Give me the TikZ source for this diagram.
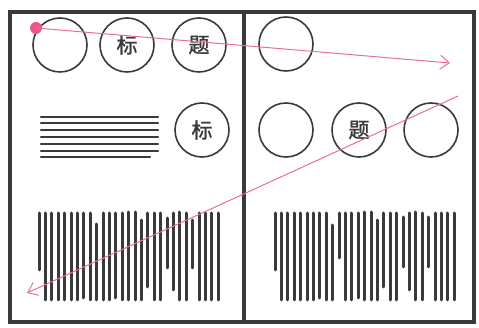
\documentclass[tikz,border=0pt]{standalone}
\usepackage{fontspec}
\newfontfamily\cjk[FakeBold=1.2]{Noto Sans CJK SC}
\usetikzlibrary{arrows.meta}
\definecolor{ink}{RGB}{58,58,58}
\definecolor{pinkdot}{RGB}{238,84,138}
\definecolor{pinkline}{RGB}{232,110,158}

\begin{document}
\begin{tikzpicture}[x=1pt,y=-1pt]
            \tikzstyle{frame}=[line width=3.8pt, draw=ink]
            \tikzstyle{circ}=[circle, minimum size=54pt, inner sep=0pt, line width=1.6pt, draw=ink, font=\cjk\fontsize{21}{21}\selectfont, text=ink]
            \tikzstyle{hline}=[line width=2.4pt, draw=ink, line cap=round]
            \tikzstyle{vbar}=[line width=3pt, draw=ink, line cap=round]
            \tikzstyle{dot}=[circle, fill=pinkdot, minimum size=12pt, inner sep=0pt]
            \tikzstyle{connect}=[line width=1pt, draw=pinkline, -{Straight Barb[length=9pt,width=14pt]}]
            \useasboundingbox (0,0) rectangle (479,328);
            \draw[frame] (10,12) rectangle (474,322);
            \draw[frame] (244,12) -- (244,322);

            % left page
            \node[circ] (C1) at (60,45){};
            \node[circ] (C2) at (127,45){标};
            \node[circ] (C3) at (199,45){题};
            \node[circ] (C4) at (202,130){标};
            \foreach \y/\e in {117/158,123/158,130/158,137/158,144/158,151/158,157/150}
                \draw[hline] (41,\y) -- (\e,\y);
            \foreach \i/\t/\b in {0/213/270,1/213/300,2/213/300,3/213/300,4/213/300,5/213/300,
                6/213/300,7/213/298,8/213/300,9/224/300,10/213/300,11/213/300,12/213/298,
                13/213/300,14/212/300,15/212/300,16/220/300,17/213/287,18/213/300,19/213/300,
                20/218/268,21/213/290,22/212/300,23/213/300,24/220/268,25/213/300,26/213/300,
                27/213/300,28/213/300}
                \draw[vbar] (39+6.4*\i,\t) -- (39+6.4*\i,\b);

            % right page
            \node[circ] (D1) at (286,44){};
            \node[circ] (D2) at (286,130){};
            \node[circ] (D3) at (359,130){题};
            \node[circ] (D4) at (431,130){};
            \foreach \i/\t/\b in {0/213/270,1/213/300,2/213/300,3/213/300,4/213/300,5/213/300,
                6/213/300,7/213/298,8/213/300,9/225/300,10/213/258,11/213/300,12/213/300,
                13/213/298,14/212/300,15/212/300,16/220/300,17/213/287,18/213/300,19/213/300,
                20/217/267,21/213/290,22/212/300,23/213/300,24/217/267,25/213/300,26/213/300,
                27/213/300,28/213/300}
                \draw[vbar] (275+6.4*\i,\t) -- (275+6.4*\i,\b);

            % reading order
            \node[dot] (P) at (36,28){};
            \coordinate (A1) at (450,63);
            \coordinate (B0) at (458,96);
            \coordinate (B1) at (27,293);
            \path (P.center) edge [connect] (A1);
            \path (B0) edge [connect] (B1);
        \end{tikzpicture}
\end{document}
